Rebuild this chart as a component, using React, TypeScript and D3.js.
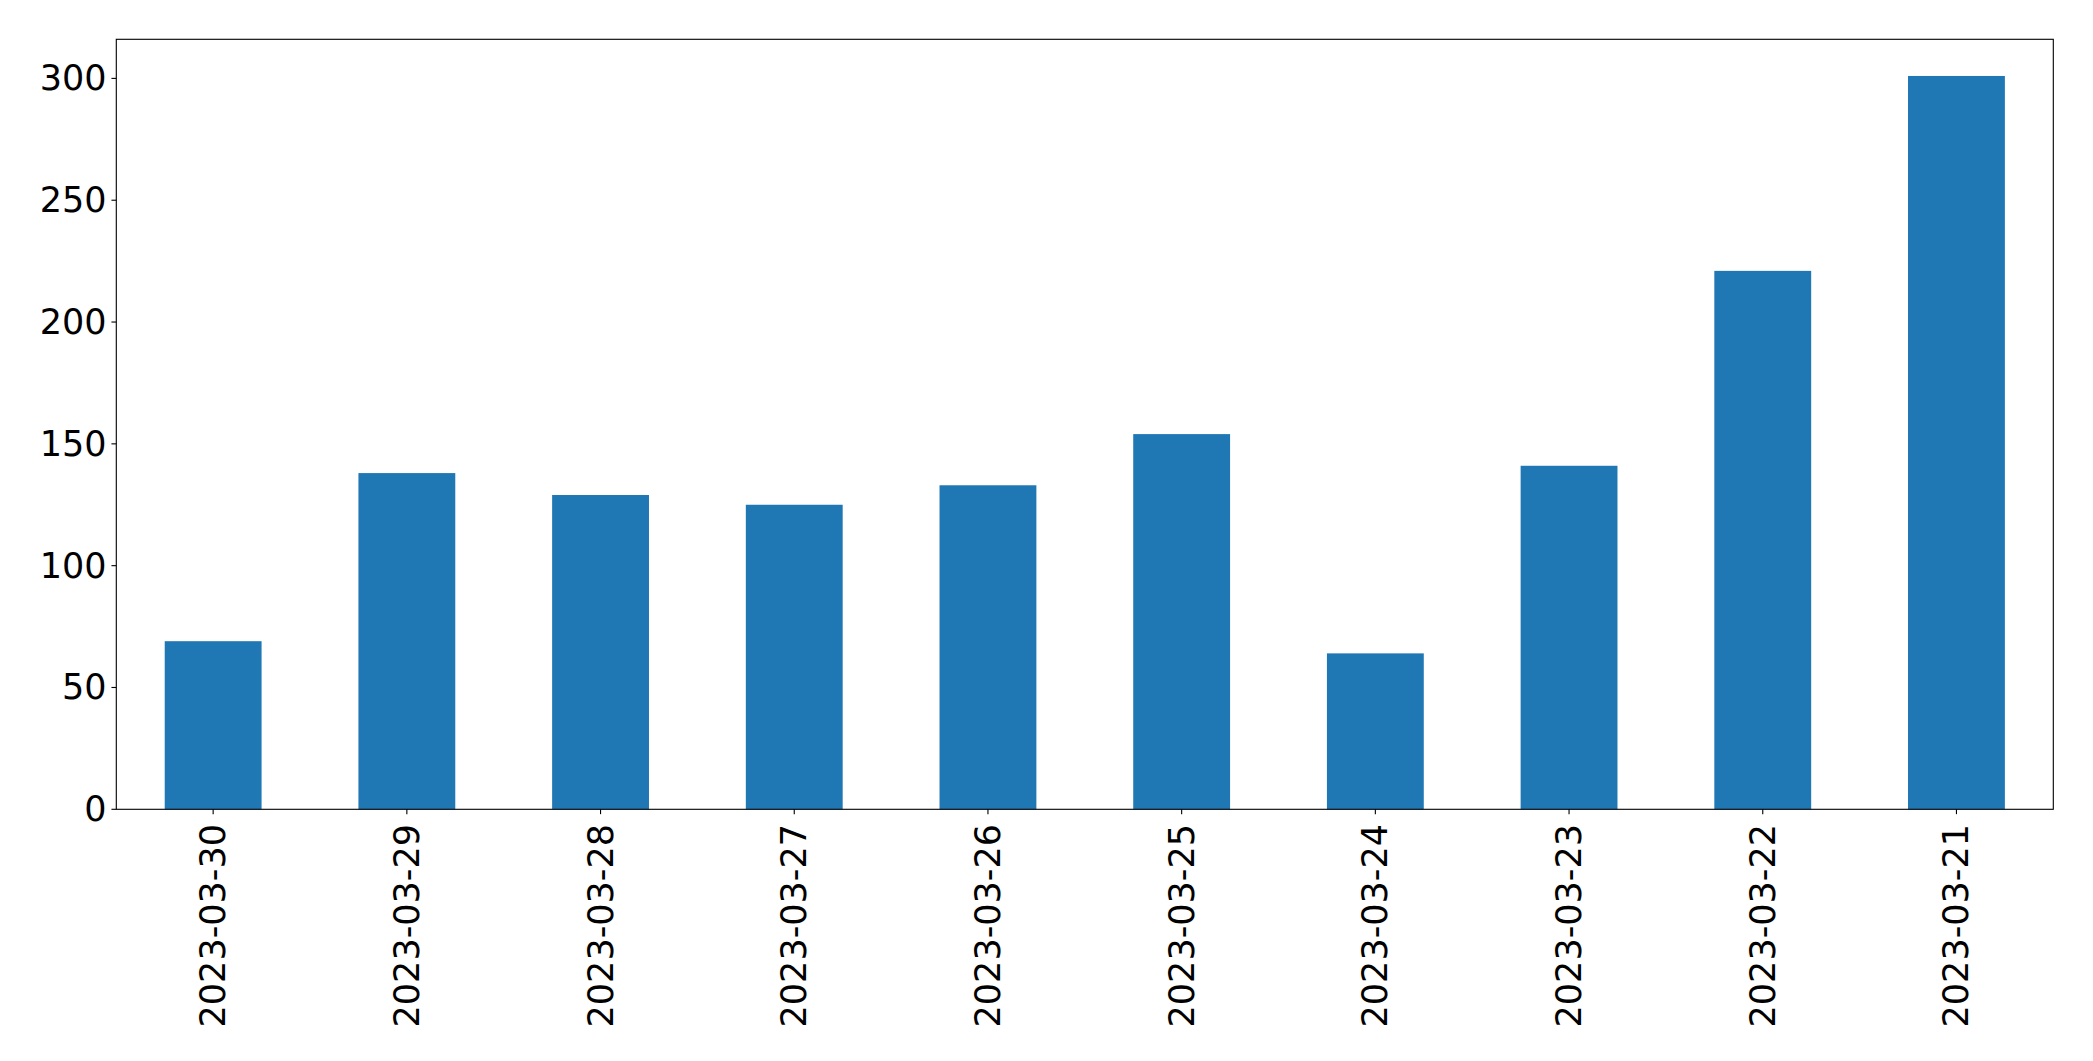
import React from "react";
import * as d3 from "d3";

const categories: string[] = [
  "2023-03-30", "2023-03-29", "2023-03-28", "2023-03-27", "2023-03-26",
  "2023-03-25", "2023-03-24", "2023-03-23", "2023-03-22", "2023-03-21",
];
const values: number[] = [69, 138, 129, 125, 133, 154, 64, 141, 221, 301];
const yTicks: number[] = [0, 50, 100, 150, 200, 250, 300];

const W = 2093;
const H = 1061;
const left = 116.3;
const right = 2053.3;
const top = 39.3;
const bottom = 809.3;
const fontSize = 35;
const tickLen = 4.86;
const pad = 4.86;
const lw = 1.11;
const font = "'DejaVu Sans', sans-serif";

export default function App() {
  const n = categories.length;
  const x = d3.scaleLinear().domain([-0.5, n - 0.5]).range([left, right]);
  const yMax = (d3.max(values) as number) * 1.05;
  const y = d3.scaleLinear().domain([0, yMax]).range([bottom, top]);
  const bw = x(0.25) - x(-0.25);

  return (
    <svg
      width={W}
      height={H}
      style={{ position: "absolute", left: 0, top: 0, background: "#fff" }}
      fontFamily={font}
    >
      <rect x={0} y={0} width={W} height={H} fill="#fff" />
      {values.map((v, i) => (
        <rect
          key={i}
          x={x(i) - bw / 2}
          y={y(v)}
          width={bw}
          height={y(0) - y(v)}
          fill="#1f77b4"
        />
      ))}
      <rect
        x={left}
        y={top}
        width={right - left}
        height={bottom - top}
        fill="none"
        stroke="#000"
        strokeWidth={lw}
      />
      {yTicks.map((t) => (
        <g key={t}>
          <line x1={left - tickLen} x2={left} y1={y(t)} y2={y(t)} stroke="#000" strokeWidth={lw} />
          <text
            x={left - tickLen - pad}
            y={y(t)}
            textAnchor="end"
            dominantBaseline="central"
            fontSize={fontSize}
            fill="#000"
          >
            {t}
          </text>
        </g>
      ))}
      {categories.map((c, i) => (
        <g key={c}>
          <line x1={x(i)} x2={x(i)} y1={bottom} y2={bottom + tickLen} stroke="#000" strokeWidth={lw} />
          <text
            transform={`translate(${x(i)},${bottom + tickLen + pad + 5}) rotate(-90)`}
            textAnchor="end"
            dominantBaseline="central"
            fontSize={fontSize}
            fill="#000"
          >
            {c}
          </text>
        </g>
      ))}
    </svg>
  );
}
